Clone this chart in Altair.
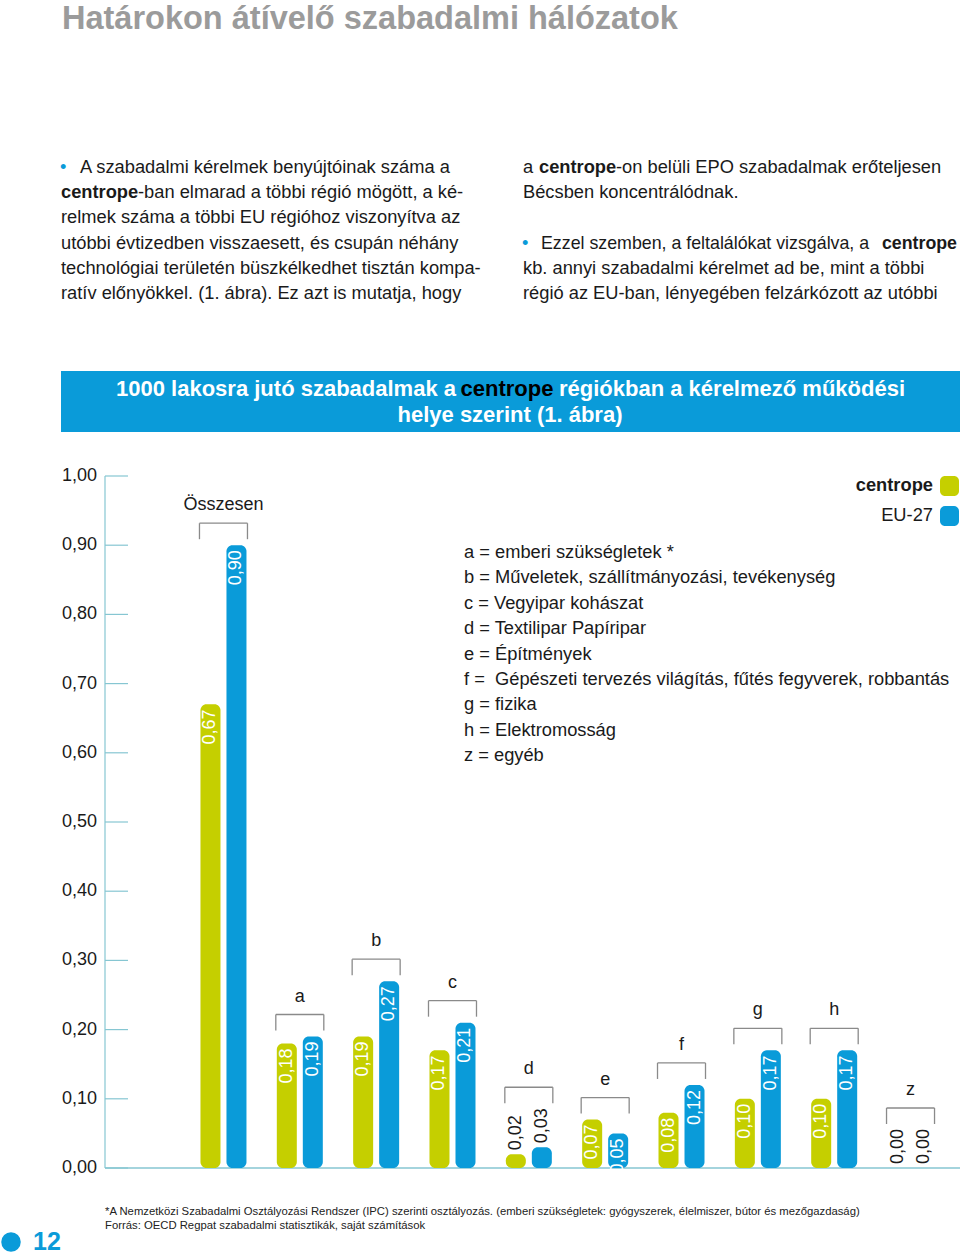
import altair as alt
import pandas as pd

# ---------------- data ----------------
groups = ["Összesen", "a", "b", "c", "d", "e", "f", "g", "h", "z"]
centrope = [0.67, 0.18, 0.19, 0.17, 0.02, 0.07, 0.08, 0.10, 0.10, 0.00]
eu27 = [0.90, 0.19, 0.27, 0.21, 0.03, 0.05, 0.12, 0.17, 0.17, 0.00]
series = ["centrope", "EU-27"]
y_ticks = [0.0, 0.1, 0.2, 0.3, 0.4, 0.5, 0.6, 0.7, 0.8, 0.9, 1.0]

category_notes = [
    "a = emberi szükségletek *",
    "b = Műveletek, szállítmányozási, tevékenység",
    "c = Vegyipar kohászat",
    "d = Textilipar Papíripar",
    "e = Építmények",
    "f = \u00a0Gépészeti tervezés világítás, fűtés fegyverek, robbantás",
    "g = fizika",
    "h = Elektromosság",
    "z = egyéb",
]

page_title = "Határokon átívelő szabadalmi hálózatok"
chart_title_1 = ["1000 lakosra jutó szabadalmak a", "centrope", "régiókban a kérelmező működési"]
chart_title_2 = "helye szerint (1. ábra)"
left_para = [
    "A szabadalmi kérelmek benyújtóinak száma a",
    "-ban elmarad a többi régió mögött, a ké-",
    "relmek száma a többi EU régióhoz viszonyítva az",
    "utóbbi évtizedben visszaesett, és csupán néhány",
    "technológiai területén büszkélkedhet tisztán kompa-",
    "ratív előnyökkel. (1. ábra). Ez azt is mutatja, hogy",
]
right_para = [
    "-on belüli EPO szabadalmak erőteljesen",
    "Bécsben koncentrálódnak.",
    "Ezzel szemben, a feltalálókat vizsgálva, a",
    "kb. annyi szabadalmi kérelmet ad be, mint a többi",
    "régió az EU-ban, lényegében felzárkózott az utóbbi",
]
footnotes = [
    "*A Nemzetközi Szabadalmi Osztályozási Rendszer (IPC) szerinti osztályozás. (emberi szükségletek: gyógyszerek, élelmiszer, bútor és mezőgazdaság)",
    "Forrás: OECD Regpat szabadalmi statisztikák, saját számítások",
]
page_number = "12"

# ---------------- tables ----------------
long_df = pd.DataFrame(
    [{"group": g, "idx": i, "series": series[0], "value": c} for i, (g, c) in enumerate(zip(groups, centrope))]
    + [{"group": g, "idx": i, "series": series[1], "value": e} for i, (g, e) in enumerate(zip(groups, eu27))]
)
wide_df = pd.DataFrame({"group": groups, "idx": list(range(len(groups))),
                        "top": [max(c, e) for c, e in zip(centrope, eu27)]})
ticks_df = pd.DataFrame({"t": y_ticks})
one = alt.Data(values=[{"k": 0}])

# ---------------- style ----------------
FONT = "Liberation Sans"
GREEN = "#c5cf00"
BLUE = "#0a9bd9"
AXIS = "#86c6d2"
GRAY = "#8a8a8a"
INK = "#1a1a1a"
BODY = 18.3

yscale = alt.Scale(domain=[0, 1], range=[1168, 476], nice=False, zero=False)
xscale = alt.Scale(domain=[-0.5, 9.5], range=[180.3, 953.7], nice=False, zero=False)
cscale = alt.Scale(domain=series, range=[GREEN, BLUE])
X = alt.X("idx:Q", scale=xscale, axis=None)
LBL = "replace(format(datum.value, '.2f'), '.', ',')"


def txt(text, x, y, size=BODY, weight="normal", color=INK, align="left", baseline="middle"):
    return alt.Chart(one).mark_text(
        text=text, font=FONT, fontSize=size, fontWeight=weight, color=color,
        align=align, baseline=baseline,
    ).encode(x=alt.value(x), y=alt.value(y))


layers = []

# page heading
layers.append(txt(page_title, 62, 29, size=32.5, weight="bold", color="#9b9b9b", baseline="alphabetic"))

# paragraphs
ly = [168, 193.2, 218.4, 243.6, 268.8, 294]
layers.append(txt("•", 60, ly[0], color=BLUE))
layers.append(txt(left_para[0], 80, ly[0]))
layers.append(txt("centrope", 61, ly[1], weight="bold"))
layers.append(txt(left_para[1], 138, ly[1]))
for i in range(2, 6):
    layers.append(txt(left_para[i], 61, ly[i]))

layers.append(txt("a", 523, ly[0]))
layers.append(txt("centrope", 539, ly[0], weight="bold"))
layers.append(txt(right_para[0], 616, ly[0]))
layers.append(txt(right_para[1], 523, ly[1]))
layers.append(txt("•", 522, ly[3], color=BLUE))
layers.append(txt(right_para[2], 541, ly[3], size=17.8))
layers.append(txt("centrope", 957, ly[3], size=17.8, weight="bold", align="right"))
layers.append(txt(right_para[3], 523, ly[4]))
layers.append(txt(right_para[4], 523, ly[5]))

# chart banner
layers.append(alt.Chart(one).mark_rect(color=BLUE).encode(
    x=alt.value(61), x2=alt.value(960), y=alt.value(371), y2=alt.value(432)))
layers.append(txt(chart_title_1[0], 456, 389, size=22, weight="bold", color="white", align="right"))
layers.append(txt(chart_title_1[1], 507, 389, size=22, weight="bold", color="black", align="center"))
layers.append(txt(chart_title_1[2], 559, 389, size=22, weight="bold", color="white", align="left"))
layers.append(txt(chart_title_2, 510, 415, size=22, weight="bold", color="white", align="center"))

# manual y axis
ticks = alt.Chart(ticks_df)
layers.append(ticks.mark_rule(color=AXIS, strokeWidth=1.2).encode(
    x=alt.value(105), y=alt.Y("min(t):Q", scale=yscale, axis=None), y2=alt.Y2("max(t):Q")))
layers.append(ticks.mark_rule(color=AXIS, strokeWidth=1.2).encode(
    x=alt.value(105), x2=alt.value(128), y=alt.Y("t:Q", scale=yscale, axis=None)))
layers.append(ticks.transform_filter("datum.t == 0").mark_rule(color=AXIS, strokeWidth=1.5).encode(
    x=alt.value(105), x2=alt.value(960), y=alt.Y("t:Q", scale=yscale, axis=None)))
layers.append(ticks.transform_calculate(lab="replace(format(datum.t, '.2f'), '.', ',')").mark_text(
    font=FONT, fontSize=18, color=INK, align="right", baseline="middle").encode(
    x=alt.value(97), y=alt.Y("t:Q", scale=yscale, axis=None), text="lab:N"))

# bars and value labels
for s, off in zip(series, [-13, 13]):
    base = alt.Chart(long_df).transform_filter(alt.datum.series == s)
    layers.append(base.mark_bar(width=20, cornerRadius=6, xOffset=off).encode(
        x=X, y=alt.Y("value:Q", scale=yscale, axis=None), y2=alt.datum(0),
        color=alt.Color("series:N", scale=cscale, legend=None)))
    layers.append(base.transform_filter("datum.value >= 0.04").transform_calculate(lab=LBL).mark_text(
        font=FONT, fontSize=18, color="white", angle=270, align="right", baseline="middle",
        xOffset=off, yOffset=5).encode(
        x=X, y=alt.Y("value:Q", scale=yscale, axis=None), text="lab:N"))
    layers.append(base.transform_filter("datum.value < 0.04").transform_calculate(lab=LBL).mark_text(
        font=FONT, fontSize=18, color=INK, angle=270, align="left", baseline="middle",
        xOffset=off, yOffset=-4).encode(
        x=X, y=alt.Y("value:Q", scale=yscale, axis=None), text="lab:N"))

# brackets and group letters
for cond, b in [("datum.top >= 0.04", -22), ("datum.top < 0.04", -60)]:
    src = alt.Chart(wide_df).transform_filter(cond)
    Yt = alt.Y("top:Q", scale=yscale, axis=None)
    layers.append(src.mark_rule(color=GRAY, strokeWidth=1.3, xOffset=-24, x2Offset=24, yOffset=b).encode(
        x=X, x2=alt.X2("idx:Q"), y=Yt))
    for xo in (-24, 24):
        layers.append(src.mark_rule(color=GRAY, strokeWidth=1.3, xOffset=xo, yOffset=b, y2Offset=b + 16).encode(
            x=X, y=Yt, y2=alt.Y2("top:Q")))
    layers.append(src.mark_text(font=FONT, fontSize=18, color=INK, align="center", baseline="middle",
                                yOffset=b - 18).encode(x=X, y=Yt, text="group:N"))

# legend
leg = alt.Chart(pd.DataFrame({"series": series}))
for s, yy, w in zip(series, [486, 516], ["bold", "normal"]):
    layers.append(leg.transform_filter(alt.datum.series == s).mark_rect(cornerRadius=5).encode(
        x=alt.value(940), x2=alt.value(959), y=alt.value(yy - 10), y2=alt.value(yy + 10),
        color=alt.Color("series:N", scale=cscale, legend=None)))
    layers.append(leg.transform_filter(alt.datum.series == s).mark_text(
        font=FONT, fontSize=BODY, fontWeight=w, color=INK, align="right", baseline="middle").encode(
        x=alt.value(933), y=alt.value(yy), text="series:N"))

# category notes
for i, note in enumerate(category_notes):
    layers.append(txt(note, 464, 553 + 25.4 * i))

# footer
layers.append(txt(footnotes[0], 105, 1212, size=11.3, color="#222222"))
layers.append(txt(footnotes[1], 105, 1226, size=11.3, color="#222222"))
layers.append(alt.Chart(one).mark_point(filled=True, size=380, color=BLUE, opacity=1).encode(
    x=alt.value(11), y=alt.value(1242)))
layers.append(txt(page_number, 33, 1242, size=25, weight="bold", color=BLUE))

chart = alt.layer(*layers).properties(
    width=960, height=1255, autosize=alt.AutoSizeParams(type="none"), padding=0,
    background="white",
).configure_view(strokeWidth=0)

chart.save("out.html", embed_options={"renderer": "svg", "actions": False})
